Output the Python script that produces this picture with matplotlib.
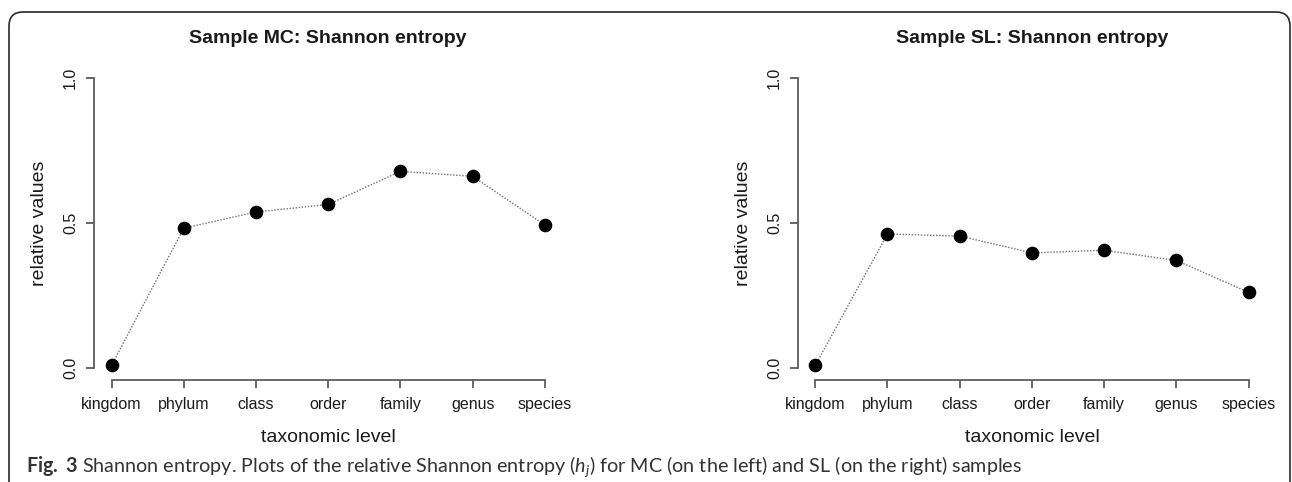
import numpy as np
import matplotlib
matplotlib.use("Agg")
import matplotlib.pyplot as plt
from matplotlib.patches import FancyBboxPatch

# data
levels = ['kingdom', 'phylum', 'class', 'order', 'family', 'genus', 'species']
mc_values = [0.009, 0.482, 0.538, 0.564, 0.678, 0.661, 0.493]
sl_values = [0.009, 0.462, 0.455, 0.397, 0.406, 0.371, 0.261]
titles = ['Sample MC: Shannon entropy', 'Sample SL: Shannon entropy']
yticks = [0.0, 0.5, 1.0]
ytick_labels = ['0.0', '0.5', '1.0']

plt.rcParams['font.family'] = ['Liberation Sans', 'DejaVu Sans']
plt.rcParams['mathtext.fontset'] = 'custom'
plt.rcParams['mathtext.rm'] = 'Lato'
plt.rcParams['mathtext.it'] = 'Lato:italic'
plt.rcParams['mathtext.bf'] = 'Lato:bold'

W, H = 1292, 482
fig = plt.figure(figsize=(W / 100, H / 100), dpi=100)

axis_col = '#5e5e5e'
text_col = '#1a1a1a'


def panel(left_px, values, title):
    # plot region in pixels, R-style 4% padding
    ax = fig.add_axes([left_px / W, (H - 379.6) / H, 468 / W, 313.2 / H])
    x = np.arange(1, len(levels) + 1)
    ax.plot(x, values, linestyle=(0, (1, 1.2)), color='#707070', linewidth=1.0, zorder=2)
    ax.plot(x, values, 'o', color='black', markersize=8.8, zorder=3)
    ax.set_xlim(0.76, 7.24)
    ax.set_ylim(-0.04, 1.04)
    for s in ['top', 'right']:
        ax.spines[s].set_visible(False)
    ax.spines['left'].set_bounds(0, 1)
    ax.spines['bottom'].set_bounds(1, 7)
    for s in ['left', 'bottom']:
        ax.spines[s].set_color(axis_col)
        ax.spines[s].set_linewidth(1.3)
    ax.set_xticks(x)
    ax.set_xticklabels(levels)
    ax.set_yticks(yticks)
    ax.set_yticklabels(ytick_labels, rotation=90, va='center')
    ax.tick_params(axis='both', length=5.5, width=1.3, color=axis_col,
                   labelsize=11.5, labelcolor=text_col)
    ax.tick_params(axis='x', pad=7)
    ax.tick_params(axis='y', pad=6)
    ax.set_xlabel('taxonomic level', fontsize=14, color=text_col, labelpad=12)
    ax.set_ylabel('relative values', fontsize=14, color=text_col, labelpad=11)
    ax.set_title(title, fontsize=14, fontweight='bold', color=text_col, pad=17)
    return ax


panel(94.2, mc_values, titles[0])
panel(797.9, sl_values, titles[1])

# journal frame
frame = FancyBboxPatch((0.09, -0.3), 12.81, 5.0,
                       boxstyle='round,pad=0,rounding_size=0.14',
                       transform=fig.dpi_scale_trans, fill=False,
                       edgecolor='#2a2a2a', linewidth=1.2)
fig.patches.append(frame)

caption = (r'$\mathbf{Fig.\ 3}$ Shannon entropy. Plots of the relative Shannon entropy '
           r'($h_j$) for MC (on the left) and SL (on the right) samples')
cap = fig.text(25.5 / W, 1 - 467 / H, caption, fontsize=14, family='Lato',
               color='#333333', va='center', ha='left')
fig.canvas.draw()
w = cap.get_window_extent().width
cap.set_fontsize(14 * 1000 / w)

fig.savefig('out.png', dpi=100)
